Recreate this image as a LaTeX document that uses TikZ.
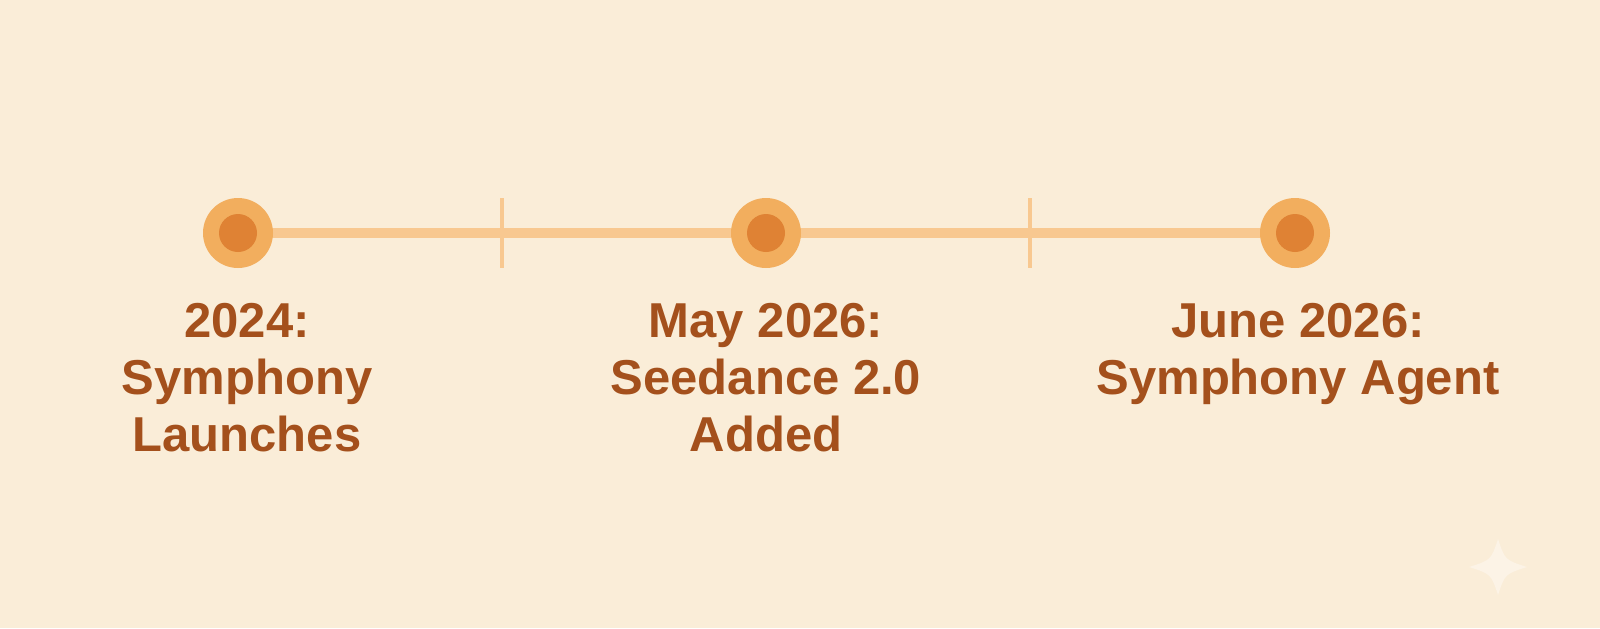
\documentclass[tikz,border=0pt]{standalone}
\usepackage{fontspec}
\setmainfont{Liberation Sans}
\usetikzlibrary{calc}
\definecolor{bg}{HTML}{FAEDD8}
\definecolor{ring}{HTML}{F2AE5E}
\definecolor{core}{HTML}{DF8234}
\definecolor{rail}{HTML}{F8C890}
\definecolor{txt}{HTML}{A4501C}
\definecolor{spark}{HTML}{FCF3E6}
\begin{document}
\begin{tikzpicture}[x=0.5pt,y=-0.5pt,
  outer/.style={circle,fill=ring,minimum size=35pt,inner sep=0pt},
  inner/.style={circle,fill=core,minimum size=19pt,inner sep=0pt},
  rail/.style={draw=rail,line width=5pt},
  tick/.style={draw=rail,line width=2pt},
  label/.style={anchor=north,inner sep=0pt,align=center,text=txt,font=\fontsize{24.5}{28.5}\selectfont\bfseries}]
\fill[bg] (0,0) rectangle (1600,628);
\useasboundingbox (0,0) rectangle (1600,628);
% ticks
\coordinate (t1a) at (502,198); \coordinate (t1b) at (502,268);
\coordinate (t2a) at (1030,198); \coordinate (t2b) at (1030,268);
% milestone positions
\coordinate (p1) at (238,233);
\coordinate (p2) at (766,233);
\coordinate (p3) at (1295,233);
\draw[rail] (p1) -- (p2) -- (p3);
\draw[tick] (t1a) -- (t1b);
\draw[tick] (t2a) -- (t2b);
\node[outer] (c1) at (p1) {};
\node[outer] (c2) at (p2) {};
\node[outer] (c3) at (p3) {};
\node[inner] (d1) at (c1) {};
\node[inner] (d2) at (c2) {};
\node[inner] (d3) at (c3) {};
\node[label] (l1) at (247,303) {2024:\\Symphony\\Launches};
\node[label] (l2) at (766,303) {May 2026:\\Seedance 2.0\\Added};
\node[label] (l3) at (1298,303) {June 2026:\\Symphony Agent};
% faint sparkle
\coordinate (s) at (1498,567);
\fill[spark] ($(s)+(0,-28)$) .. controls ($(s)+(7,-7)$) .. ($(s)+(29,0)$)
  .. controls ($(s)+(7,7)$) .. ($(s)+(0,28)$)
  .. controls ($(s)+(-7,7)$) .. ($(s)+(-29,0)$)
  .. controls ($(s)+(-7,-7)$) .. cycle;
\end{tikzpicture}
\end{document}
